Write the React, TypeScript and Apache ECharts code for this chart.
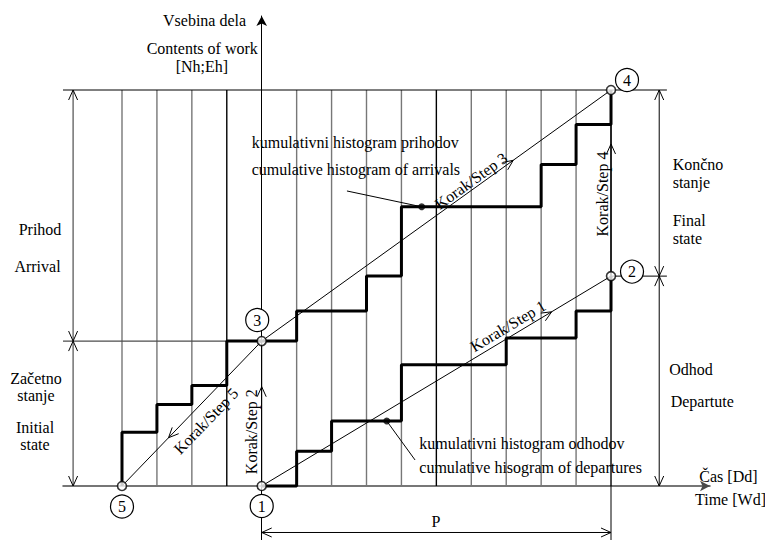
import React, { useEffect, useRef } from "react";
import * as echarts from "echarts";

const FONT = '"Liberation Serif", "Times New Roman", serif';

// ---- data (time in grid intervals, origin at point 1; work content in relative units) ----
const timeGrid = [-4, -3, -2, -1, 0, 1, 2, 3, 4, 5, 6, 7, 8, 9, 10];
const darkGridLines = [-1, 5, 10];

const arrivalBreaks = [-4, -3, -2, -1, 1, 3, 4, 8, 9, 10];
const arrivalLevels = [13.6, 20.6, 25.4, 36.6, 44.2, 53.0, 70.5, 81.2, 91.3];
const arrivalStart = 0;
const arrivalFinal = 100;

const departureBreaks = [0, 1, 2, 4, 7, 9, 10];
const departureLevels = [0, 8.8, 16.4, 30.6, 37.4, 44.2];
const departureFinal = 53.0;

const keyPointNames = ["1", "2", "3", "4", "5"];
const keyPointX = [0, 10, 0, 10, -4];
const keyPointY = [0, 53.0, 36.6, 100, 0];

// step lines: from, to, arrow position along the line
const stepFrom = ["1", "1", "3", "2", "3"];
const stepTo = ["2", "3", "4", "4", "5"];
const stepArrowAt = [0.83, 0.685, 0.72, 0.71, 0.667];

// pointer dots on histograms and pointer ends
const pointerDotX = [4.58, 3.58];
const pointerDotY = [70.5, 16.4];
const pointerEndX = [2.44, 4.39];
const pointerEndY = [74.5, 6.57];

// ---- axis extents / layout ----
const X_MIN = -5.689;
const X_MAX = 12.834;
const Y_MIN = -13.636;
const Y_MAX = 118.687;
const LEFT_DIM_X = -5.4;
const RIGHT_DIM_X = 11.38;
const GUIDE_RIGHT_X = 11.6;
const P_DIM_Y = -11.74;

const numberOffsets: Record<string, number[]> = {
  "5": [0, 20.5],
  "1": [0, 20],
  "3": [-4.5, -21],
  "2": [21, -4.5],
  "4": [16, -10],
};

function buildSteps(breaks: number[], levels: number[], start: number, final: number) {
  const pts: number[][] = [[breaks[0], start]];
  for (let i = 0; i < levels.length; i++) {
    pts.push([breaks[i], levels[i]]);
    pts.push([breaks[i + 1], levels[i]]);
  }
  pts.push([breaks[breaks.length - 1], final]);
  return pts;
}

function kp(name: string) {
  const i = keyPointNames.indexOf(name);
  return [keyPointX[i], keyPointY[i]];
}

function segmentSeries(name: string, data: number[][], color: string, width: number) {
  return {
    type: "custom",
    name,
    coordinateSystem: "cartesian2d",
    silent: true,
    z: 3,
    data,
    renderItem: (_params: any, api: any) => {
      const a = api.coord([api.value(0), api.value(1)]);
      const b = api.coord([api.value(2), api.value(3)]);
      const mode = api.value(4);
      const t = api.value(5);
      const style = { stroke: color, lineWidth: width, fill: "none" };
      const children: any[] = [
        { type: "line", shape: { x1: a[0], y1: a[1], x2: b[0], y2: b[1] }, style },
      ];
      const dx = b[0] - a[0];
      const dy = b[1] - a[1];
      const len = Math.hypot(dx, dy) || 1;
      const ux = dx / len;
      const uy = dy / len;
      const L = 10;
      const Hh = 4.5;
      const head = (px: number, py: number, ex: number, ey: number) => ({
        type: "polyline",
        shape: {
          points: [
            [px - ex * L - ey * Hh, py - ey * L + ex * Hh],
            [px, py],
            [px - ex * L + ey * Hh, py - ey * L - ex * Hh],
          ],
        },
        style: { stroke: "#000", lineWidth: 1, fill: "none" },
      });
      if (mode === 1) children.push(head(a[0] + dx * t, a[1] + dy * t, ux, uy));
      if (mode === 2) {
        children.push(head(b[0], b[1], ux, uy));
        children.push(head(a[0], a[1], -ux, -uy));
      }
      return { type: "group", children };
    },
  };
}

function txt(text: string, x: number, y: number, align = "left", rotationDeg = 0) {
  return {
    type: "text",
    x,
    y,
    rotation: (rotationDeg * Math.PI) / 180,
    silent: true,
    z: 20,
    style: {
      text,
      fill: "#000",
      font: `16px ${FONT}`,
      align,
      verticalAlign: "middle",
      textAlign: align,
      textVerticalAlign: "middle",
    },
  };
}

export default function App() {
  const ref = useRef<HTMLDivElement>(null);

  useEffect(() => {
    if (!ref.current) return;
    const chart = echarts.init(ref.current, undefined, { renderer: "svg" });

    const grayGrid = timeGrid
      .filter((k) => k !== 0 && darkGridLines.indexOf(k) < 0)
      .map((k) => [k, arrivalStart, k, arrivalFinal, 0, 0]);
    const darkGrid = timeGrid
      .filter((k) => darkGridLines.indexOf(k) >= 0)
      .map((k) => [k, arrivalStart, k, arrivalFinal, 0, 0]);

    const initialState = keyPointY[2];
    const stepSegs = stepFrom.map((f, i) => {
      const a = kp(f);
      const b = kp(stepTo[i]);
      return [a[0], a[1], b[0], b[1], 1, stepArrowAt[i]];
    });
    const pointerSegs = pointerDotX.map((x, i) => [pointerEndX[i], pointerEndY[i], x, pointerDotY[i], 0, 0]);

    const blackSegs = [
      ...stepSegs,
      ...pointerSegs,
      [X_MIN, arrivalFinal, GUIDE_RIGHT_X, arrivalFinal, 0, 0],
      [10, departureFinal, GUIDE_RIGHT_X, departureFinal, 0, 0],
      [10, 0, 10, Y_MIN, 0, 0],
      [RIGHT_DIM_X, arrivalFinal, RIGHT_DIM_X, departureFinal, 2, 0],
      [RIGHT_DIM_X, departureFinal, RIGHT_DIM_X, 0, 2, 0],
      [0, P_DIM_Y, 10, P_DIM_Y, 2, 0],
    ];
    const graySegs = [
      [X_MIN, initialState, 0, initialState, 0, 0],
      [LEFT_DIM_X, arrivalFinal, LEFT_DIM_X, initialState, 2, 0],
      [LEFT_DIM_X, initialState, LEFT_DIM_X, 0, 2, 0],
    ];

    const option: any = {
      animation: false,
      backgroundColor: "#ffffff",
      grid: { left: 63, right: 55, top: 16, bottom: 0 },
      xAxis: {
        type: "value",
        min: X_MIN,
        max: X_MAX,
        axisLine: {
          show: true,
          onZero: true,
          symbol: ["none", "arrow"],
          symbolSize: [8, 10],
          lineStyle: { color: "#4a4a4a", width: 1.5 },
        },
        axisTick: { show: false },
        axisLabel: { show: false },
        splitLine: { show: false },
      },
      yAxis: {
        type: "value",
        min: Y_MIN,
        max: Y_MAX,
        axisLine: {
          show: true,
          onZero: true,
          symbol: ["none", "arrow"],
          symbolSize: [8, 10],
          lineStyle: { color: "#000", width: 1 },
        },
        axisTick: { show: false },
        axisLabel: { show: false },
        splitLine: { show: false },
      },
      series: [
        segmentSeries("grid", grayGrid, "#777777", 1.4),
        segmentSeries("gridDark", darkGrid, "#000", 1.4),
        segmentSeries("grayLines", graySegs, "#4d4d4d", 1.2),
        segmentSeries("lines", blackSegs, "#000", 1),
        {
          type: "line",
          name: "kumulativni histogram prihodov",
          data: buildSteps(arrivalBreaks, arrivalLevels, arrivalStart, arrivalFinal),
          symbol: "none",
          lineStyle: { color: "#000", width: 3 },
          z: 4,
        },
        {
          type: "line",
          name: "kumulativni histogram odhodov",
          data: buildSteps(departureBreaks, departureLevels, 0, departureFinal),
          symbol: "none",
          lineStyle: { color: "#000", width: 3 },
          z: 4,
        },
        {
          type: "scatter",
          name: "dots",
          data: pointerDotX.map((x, i) => [x, pointerDotY[i]]),
          symbolSize: 7,
          itemStyle: { color: "#000" },
          z: 5,
        },
        {
          type: "scatter",
          name: "points",
          data: keyPointNames.map((n, i) => ({ name: n, value: [keyPointX[i], keyPointY[i]] })),
          symbolSize: 9,
          itemStyle: { color: "#fff", borderColor: "#000", borderWidth: 1.6 },
          z: 6,
        },
        {
          type: "scatter",
          name: "numbers",
          data: keyPointNames.map((n, i) => ({
            name: n,
            value: [keyPointX[i], keyPointY[i]],
            symbolOffset: numberOffsets[n],
          })),
          symbol: "circle",
          symbolSize: 23,
          itemStyle: { color: "#fff", borderColor: "#000", borderWidth: 1.2, opacity: 1 },
          label: {
            show: true,
            position: "inside",
            formatter: "{b}",
            color: "#000",
            fontFamily: FONT,
            fontSize: 16,
          },
          z: 7,
        },
      ],
      graphic: [
        txt("Vsebina dela", 163, 20.6),
        txt("Contents of work", 146.7, 48),
        txt("[Nh;Eh]", 175.7, 66.6),
        txt("kumulativni histogram prihodov", 251.7, 142),
        txt("cumulative histogram of arrivals", 251.7, 169.6),
        txt("Prihod", 40, 229.6, "center"),
        txt("Arrival", 37.5, 266.3, "center"),
        txt("Začetno", 36, 378.6, "center"),
        txt("stanje", 36, 395.6, "center"),
        txt("Initial", 35, 427.6, "center"),
        txt("state", 35, 444.6, "center"),
        txt("Končno", 672.7, 164.6),
        txt("stanje", 672.7, 182.6),
        txt("Final", 672.7, 220.3),
        txt("state", 672.7, 238.6),
        txt("Odhod", 669.3, 369),
        txt("Departute", 670.7, 401.3),
        txt("kumulativni histogram odhodov", 419.3, 443),
        txt("cumulative hisogram of departures", 419.3, 467),
        txt("Čas [Dd]", 699.3, 476.3),
        txt("Time [Wd]", 695, 499.6),
        txt("P", 436, 521.3, "center"),
        txt("Korak/Step 1", 508, 326, "center", 31),
        txt("Korak/Step 3", 471, 181, "center", 35.7),
        txt("Korak/Step 5", 206, 421, "center", 46),
        txt("Korak/Step 2", 251.5, 431.7, "center", 90),
        txt("Korak/Step 4", 602, 194, "center", 90),
      ],
    };

    chart.setOption(option);
    return () => chart.dispose();
  }, []);

  return (
    <div
      ref={ref}
      style={{ position: "fixed", left: 0, top: 0, width: 765, height: 540, background: "#fff" }}
    />
  );
}
